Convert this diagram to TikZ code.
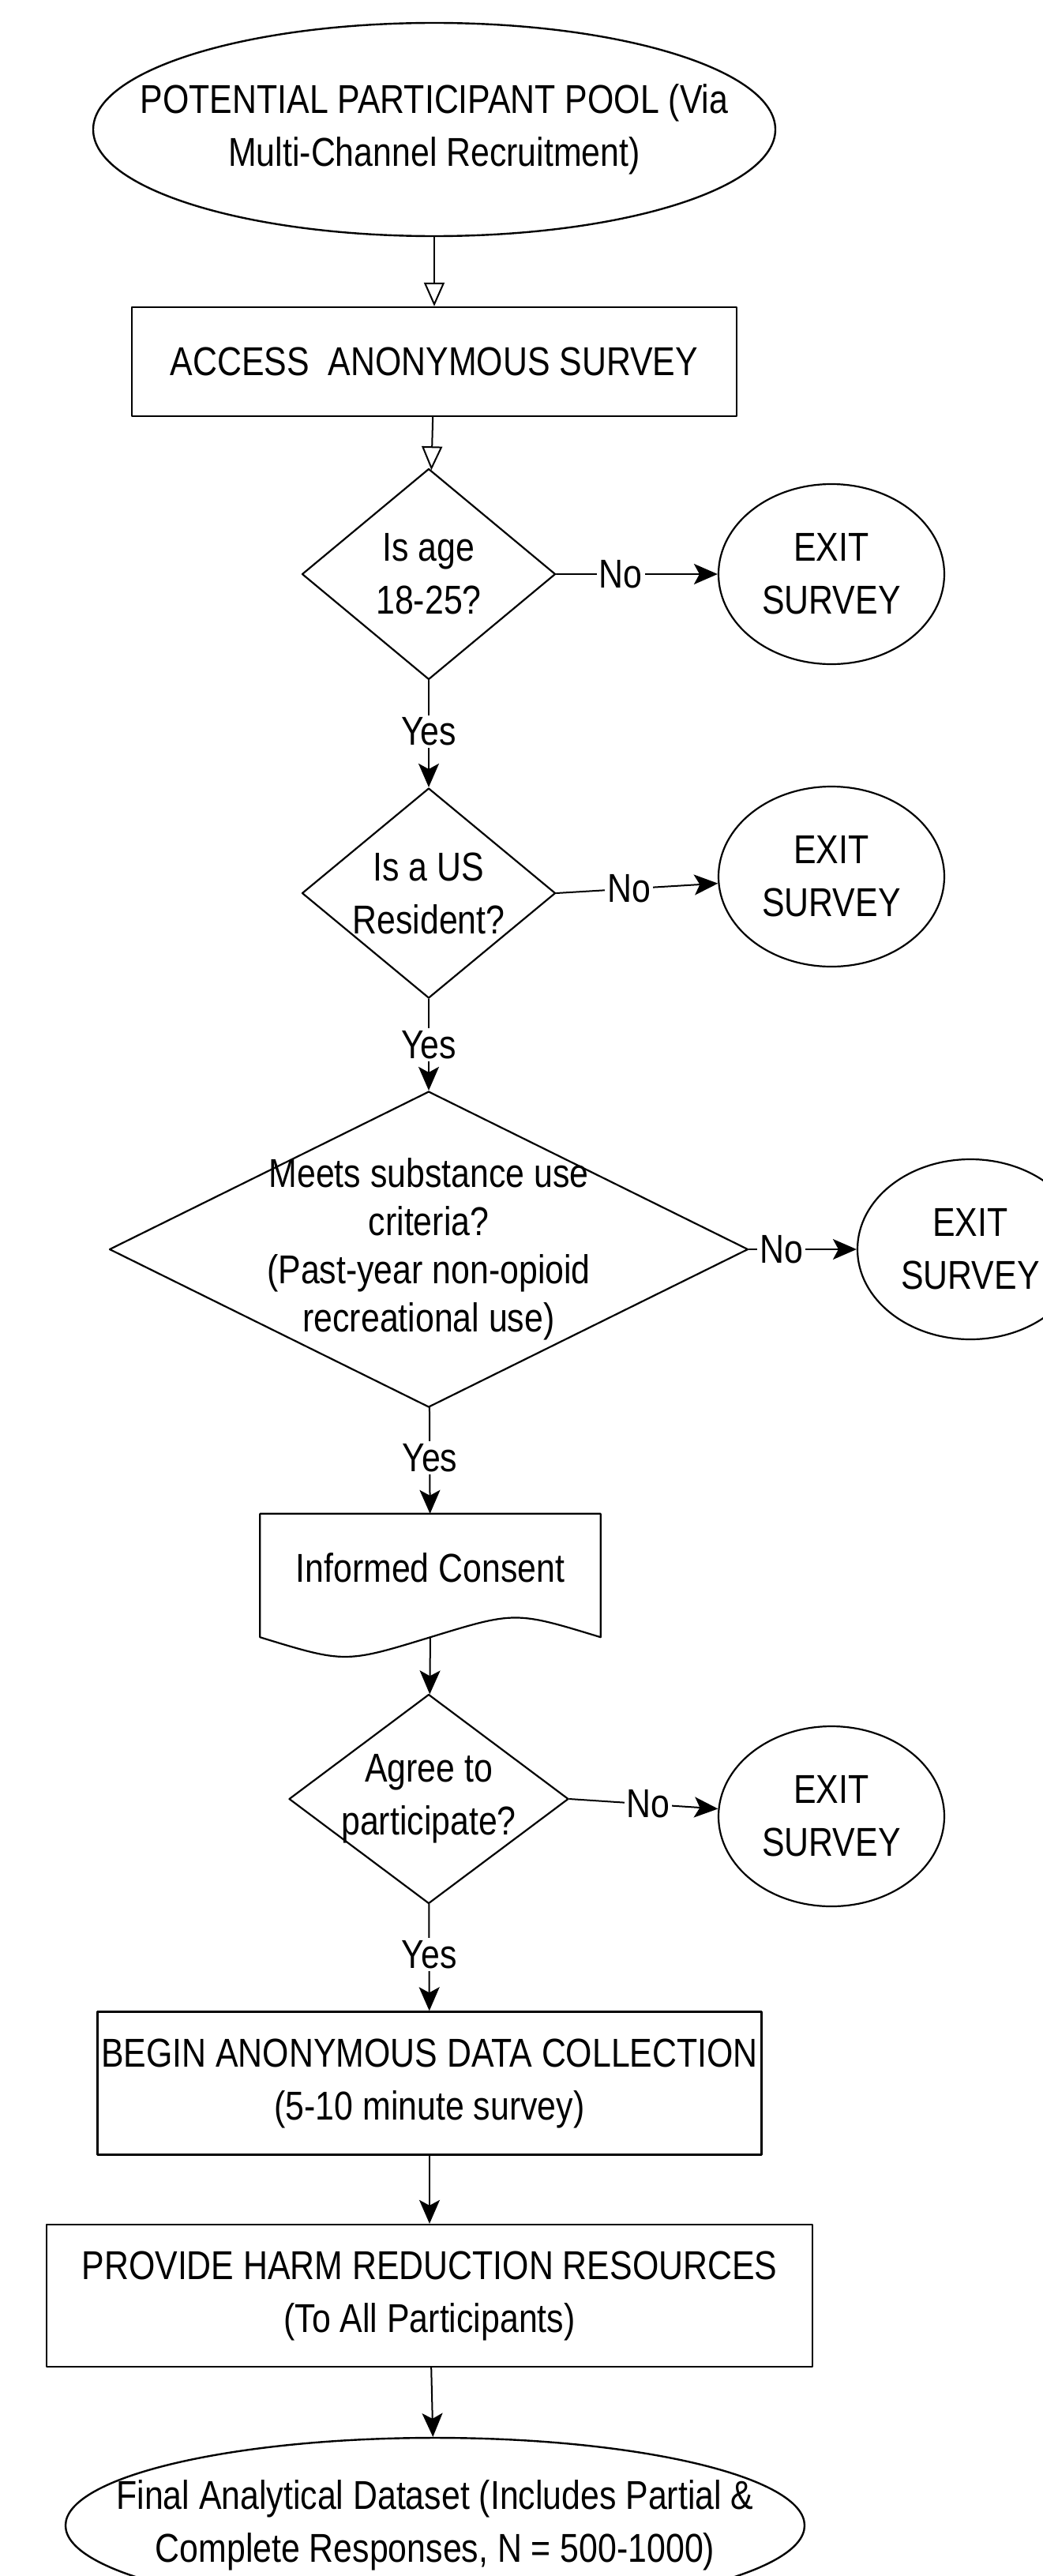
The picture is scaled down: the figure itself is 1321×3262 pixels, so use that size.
\documentclass[tikz,border=0pt]{standalone}
\usepackage{fontspec}
\setmainfont{Liberation Sans}[FakeStretch=0.84]
\usetikzlibrary{shapes.geometric,arrows.meta}

\begin{document}
\begin{tikzpicture}[x=1pt,y=-1pt,line cap=round,line join=round,
every node/.style={font=\fontsize{51}{67}\selectfont,align=center},
terminal/.style={ellipse,draw,line width=2.4pt,inner sep=0pt},
process/.style={rectangle,draw,line width=2.4pt,inner sep=0pt},
decision/.style={diamond,draw,line width=2.2pt,inner sep=0pt},
exitnode/.style={ellipse,draw,line width=2.2pt,inner sep=0pt,minimum width=286pt,minimum height=228pt},
docnode/.style={rectangle,inner sep=0pt,minimum width=431pt,minimum height=156pt},
flow/.style={line width=2pt,-{Stealth[length=30pt,width=26pt,inset=7pt]}},
openflow/.style={line width=2pt,-{Triangle[open,length=30pt,width=26pt]}},
answer/.style={fill=white,inner sep=3pt}]
\clip (0,0) rectangle (1321,3262);
\node[terminal,minimum width=864pt,minimum height=270pt,label=center:{POTENTIAL PARTICIPANT POOL (Via\\Multi-Channel Recruitment)}] (pool) at (550,164) {};
\node[process,minimum width=766pt,minimum height=138pt] (access) at (550,458) {ACCESS\ \ ANONYMOUS SURVEY};
\node[decision,minimum width=321pt,minimum height=267pt,label=center:{Is age\\18-25?}] (age) at (543,727) {};
\node[decision,minimum width=321pt,minimum height=266pt,label=center:{Is a US\\Resident?}] (resident) at (543,1131) {};
\node[decision,minimum width=809pt,minimum height=400pt,label={[font=\fontsize{51}{61}\selectfont]center:{Meets substance use\\criteria?\\(Past-year non-opioid\\recreational use)}}] (criteria) at (543,1582) {};
\node[docnode,label={[yshift=10pt]center:Informed Consent}] (consent) at (545,1995) {};
\node[decision,minimum width=354pt,minimum height=265pt,label=center:{Agree to\\participate?}] (agree) at (543,2278) {};
\node[process,minimum width=841pt,minimum height=181pt] (collect) at (544,2638) {BEGIN ANONYMOUS DATA COLLECTION\\(5-10 minute survey)};
\node[process,minimum width=970pt,minimum height=180pt] (resources) at (544,2907) {PROVIDE HARM REDUCTION RESOURCES\\(To All Participants)};
\node[terminal,minimum width=936pt,minimum height=222pt,label=center:{Final Analytical Dataset (Includes Partial \&\\Complete Responses, N = 500-1000)}] (dataset) at (551,3198) {};
\node[exitnode] (exitage) at (1053,727) {EXIT\\SURVEY};
\node[exitnode] (exitres) at (1053,1110) {EXIT\\SURVEY};
\node[exitnode] (exitcrit) at (1229,1582) {EXIT\\SURVEY};
\node[exitnode] (exitagree) at (1053,2300) {EXIT\\SURVEY};
\draw[line width=2.2pt] (consent.south west) -- (consent.north west) -- (consent.north east) -- (consent.south east)
  .. controls +(-108,-33) .. (consent.south)
  .. controls +(-108,33) .. (consent.south west);
\draw[openflow] (pool) -- (access);
\draw[openflow] (access) -- (age);
\draw[flow] (age) -- node[answer,pos=0.48]{Yes} (resident);
\draw[flow] (resident) -- node[answer,pos=0.5]{Yes} (criteria);
\draw[flow] (criteria) -- node[answer,pos=0.47]{Yes} (consent);
\draw[flow] (consent.south) -- (agree);
\draw[flow] (agree) -- node[answer,pos=0.47]{Yes} (collect);
\draw[flow] (collect) -- (resources);
\draw[flow] (resources) -- (dataset);
\draw[flow] (age.east) -- node[answer,pos=0.4]{No} (exitage);
\draw[flow] (resident.east) -- node[answer,pos=0.45]{No} (exitres);
\draw[flow] (criteria.east) -- node[answer,pos=0.3]{No} (exitcrit);
\draw[flow] (agree.east) -- node[answer,pos=0.53]{No} (exitagree);
\end{tikzpicture}
\end{document}
